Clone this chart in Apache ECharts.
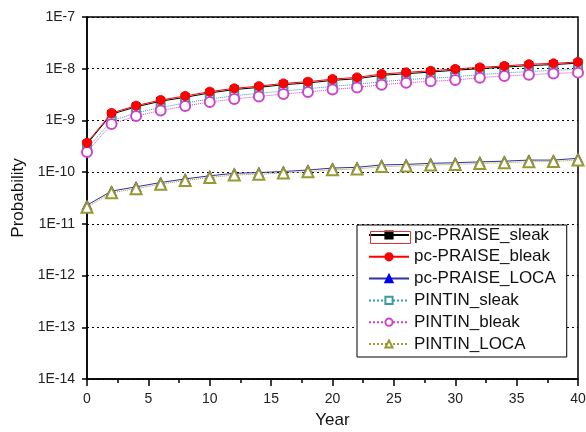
<!DOCTYPE html>
<html>
<head>
<meta charset="utf-8">
<script src="https://cdn.jsdelivr.net/npm/echarts@6/dist/echarts.min.js"></script>
<style>html,body{margin:0;padding:0;background:#fff}#c{width:586px;height:432px}</style>
</head>
<body>
<div id="c"></div>
<script>
var years = [0,2,4,6,8,10,12,14,16,18,20,22,24,26,28,30,32,34,36,38,40];
var pcSleak = [3.5e-10,1.32e-9,1.83e-9,2.35e-9,2.8e-9,3.4e-9,3.95e-9,4.35e-9,4.9e-9,5.3e-9,5.95e-9,6.4e-9,7.45e-9,8.0e-9,8.6e-9,9.35e-9,1.0e-8,1.07e-8,1.15e-8,1.2e-8,1.28e-8];
var pcBleak = [3.7e-10,1.39e-9,1.93e-9,2.48e-9,2.97e-9,3.6e-9,4.17e-9,4.6e-9,5.2e-9,5.6e-9,6.3e-9,6.8e-9,7.9e-9,8.5e-9,9.1e-9,9.9e-9,1.06e-8,1.13e-8,1.22e-8,1.27e-8,1.35e-8];
var pcLoca = [2.3e-11,4.3e-11,5.2e-11,6.3e-11,7.4e-11,8.5e-11,9.5e-11,9.8e-11,1.03e-10,1.1e-10,1.2e-10,1.24e-10,1.38e-10,1.41e-10,1.48e-10,1.52e-10,1.58e-10,1.63e-10,1.71e-10,1.71e-10,1.85e-10];
var pinSleak = [2.85e-10,9.8e-10,1.4e-9,1.78e-9,2.18e-9,2.6e-9,3.0e-9,3.35e-9,3.7e-9,4.1e-9,4.55e-9,5.0e-9,5.6e-9,6.15e-9,6.55e-9,6.95e-9,7.7e-9,8.3e-9,8.8e-9,9.3e-9,9.7e-9];
var pinBleak = [2.46e-10,8.5e-10,1.22e-9,1.55e-9,1.9e-9,2.27e-9,2.6e-9,2.9e-9,3.24e-9,3.55e-9,3.96e-9,4.35e-9,4.9e-9,5.35e-9,5.7e-9,6.05e-9,6.7e-9,7.25e-9,7.65e-9,8.1e-9,8.4e-9];
var pinLoca = [2.1e-11,4.0e-11,4.8e-11,5.85e-11,6.9e-11,7.9e-11,8.8e-11,9.1e-11,9.6e-11,1.02e-10,1.11e-10,1.15e-10,1.28e-10,1.31e-10,1.37e-10,1.41e-10,1.47e-10,1.52e-10,1.59e-10,1.6e-10,1.72e-10];
var seriesNames = ['pc-PRAISE_sleak','pc-PRAISE_bleak','pc-PRAISE_LOCA','PINTIN_sleak','PINTIN_bleak','PINTIN_LOCA'];
var xTicks = [0,5,10,15,20,25,30,35,40];

function pairs(arr){ return years.map(function(y,i){ return [y, arr[i]]; }); }
var FONT = 'Arial, "Liberation Sans", sans-serif';

function mk(name, data, lineColor, symColor, symbol, size, lineType, z){
  return {
    name: name, type: 'line', data: pairs(data), clip: false, z: z,
    symbol: symbol, symbolSize: size,
    lineStyle: {color: lineColor, width: 1, type: lineType},
    itemStyle: {color: symColor, borderColor: symColor, borderWidth: 1},
    emphasis: {disabled: true}, animation: false
  };
}

var chart = echarts.init(document.getElementById('c'), null, {renderer: 'canvas'});
chart.setOption({
  animation: false,
  backgroundColor: '#fff',
  grid: {left: 87, right: 8, top: 17, bottom: 53, outerBoundsMode: 'none', containLabel: false,
    show: true, borderColor: '#000', borderWidth: 1.5, backgroundColor: 'transparent'},
  xAxis: {
    type: 'value', min: xTicks[0], max: xTicks[xTicks.length-1], interval: 5,
    name: 'Year', nameLocation: 'middle', nameGap: 33,
    nameTextStyle: {fontFamily: FONT, fontSize: 17, color: '#111'},
    axisLine: {lineStyle: {color: '#000', width: 1.5}},
    axisTick: {inside: false, length: 7, lineStyle: {color: '#000', width: 1.5}},
    minorTick: {show: true, splitNumber: 2, length: 4, lineStyle: {color: '#000', width: 1.5}},
    axisLabel: {fontFamily: FONT, fontSize: 14, color: '#222', margin: 13},
    splitLine: {show: false}
  },
  yAxis: {
    type: 'log', logBase: 10, min: 1e-14, max: 1e-7, splitNumber: 7,
    name: 'Probability', nameLocation: 'middle', nameGap: 59,
    nameTextStyle: {fontFamily: FONT, fontSize: 17, color: '#111'},
    axisLine: {show: true, lineStyle: {color: '#000', width: 1.5}},
    axisTick: {show: true, inside: false, length: 5, lineStyle: {color: '#000', width: 1.5}},
    axisLabel: {fontFamily: FONT, fontSize: 14, color: '#222', margin: 12,
      formatter: function(v){ return '1E' + Math.round(Math.log10(v)); }},
    splitLine: {show: true, lineStyle: {color: '#000', type: [2, 3], width: 1}},
    minorTick: {show: false}
  },
  legend: {
    orient: 'vertical', left: 357, top: 225,
    padding: [1.5, 11, 4.5, 11], itemGap: 4.8, itemWidth: 40, itemHeight: 9,
    backgroundColor: '#fff', borderColor: '#000', borderWidth: 1,
    textStyle: {fontFamily: FONT, fontSize: 17, color: '#111'},
    data: seriesNames, selectedMode: false
  },
  graphic: [{type: 'rect', left: 368, top: 229, shape: {width: 40, height: 12}, style: {fill: 'none', stroke: '#e03030', lineWidth: 1}, z: 200}],
  series: [
    mk(seriesNames[0], pcSleak, '#000000', '#000000', 'rect', 8, 'solid', 2),
    mk(seriesNames[1], pcBleak, '#ff0000', '#ff0000', 'circle', 9, 'solid', 3),
    mk(seriesNames[2], pcLoca, '#3030a0', '#0000ff', 'triangle', 10, 'solid', 2),
    mk(seriesNames[3], pinSleak, '#3a9aa8', '#3a9aa8', 'emptyRect', 8, 'dotted', 2),
    mk(seriesNames[4], pinBleak, '#cc44cc', '#cc44cc', 'emptyCircle', 10, 'dotted', 2),
    mk(seriesNames[5], pinLoca, '#999933', '#999933', 'emptyTriangle', 11, 'dotted', 2)
  ]
});
</script>
</body>
</html>
